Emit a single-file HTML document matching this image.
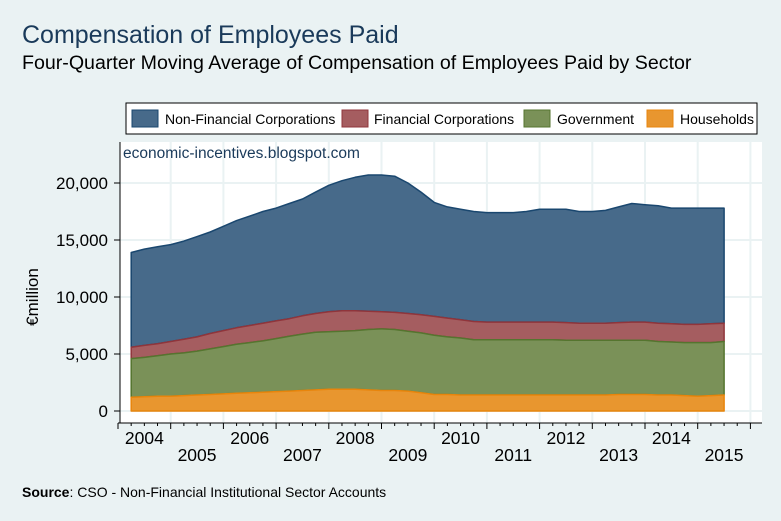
<!DOCTYPE html>
<html><head><meta charset="utf-8"><style>
body{margin:0;background:#eaf2f3;}
svg{display:block;font-family:"Liberation Sans",sans-serif;}
</style></head><body>
<svg id="c" width="781" height="521" xmlns="http://www.w3.org/2000/svg">
<rect width="781" height="521" fill="#eaf2f3"/>
<text x="22" y="43" font-size="25" fill="#1a3a5a">Compensation of Employees Paid</text>
<text x="22" y="69" font-size="19.6" fill="#000">Four-Quarter Moving Average of Compensation of Employees Paid by Sector</text>
<g>
<rect x="126" y="103" width="631" height="31" fill="#fff" stroke="#000" stroke-width="1"/>
<g><rect x="132" y="110" width="26" height="17" fill="#476a8a" stroke="#1a476f"/><text x="165" y="124" font-size="14">Non-Financial Corporations</text></g>
<g><rect x="342" y="110" width="26" height="17" fill="#a55d60" stroke="#90353b"/><text x="374" y="124" font-size="14">Financial Corporations</text></g>
<g><rect x="524" y="110" width="26" height="17" fill="#7a9158" stroke="#55752f"/><text x="557" y="124" font-size="14">Government</text></g>
<g><rect x="647" y="110" width="26" height="17" fill="#e8962f" stroke="#e8850c"/><text x="680" y="124" font-size="14">Households</text></g>
</g>
<rect x="120" y="142" width="642" height="281" fill="#fff"/>
<g id="grid"></g>
<g id="areas"></g>
<g id="axes"></g>
<text x="123" y="158" font-size="15.5" fill="#1a3a5a">economic-incentives.blogspot.com</text>
<text transform="translate(38,297) rotate(-90)" text-anchor="middle" font-size="17">€million</text>
<text x="22" y="497" font-size="14"><tspan font-weight="bold">Source</tspan>: CSO - Non-Financial Institutional Sector Accounts</text>
</svg>
<script>
const startYear = 2004.25;
const yTicks = [0,5000,10000,15000,20000];
const yTickLabels = ["0","5,000","10,000","15,000","20,000"];
const years = [2004,2005,2006,2007,2008,2009,2010,2011,2012,2013,2014,2015];
const householdsTop = [1.2,1.25,1.3,1.3,1.35,1.4,1.45,1.5,1.55,1.6,1.65,1.7,1.75,1.8,1.85,1.9,1.9,1.9,1.85,1.8,1.8,1.75,1.6,1.45,1.45,1.4,1.4,1.4,1.4,1.4,1.4,1.4,1.4,1.4,1.4,1.4,1.4,1.45,1.45,1.45,1.4,1.4,1.35,1.3,1.35,1.4];
const governmentTop = [4.6,4.7,4.85,5.0,5.1,5.25,5.45,5.65,5.85,6.0,6.15,6.35,6.55,6.75,6.9,6.95,7.0,7.05,7.15,7.2,7.15,7.0,6.85,6.65,6.5,6.4,6.25,6.25,6.25,6.25,6.25,6.25,6.25,6.2,6.2,6.2,6.2,6.2,6.2,6.2,6.1,6.05,6.0,6.0,6.0,6.1];
const financialTop = [5.6,5.75,5.9,6.1,6.3,6.5,6.8,7.05,7.3,7.5,7.7,7.9,8.1,8.35,8.55,8.7,8.8,8.8,8.75,8.7,8.65,8.55,8.45,8.3,8.15,8.0,7.85,7.8,7.8,7.8,7.8,7.8,7.8,7.75,7.7,7.7,7.7,7.75,7.8,7.8,7.7,7.65,7.6,7.6,7.65,7.7];
const nonFinancialTop = [13.9,14.2,14.4,14.6,14.9,15.3,15.7,16.2,16.7,17.1,17.5,17.8,18.2,18.6,19.2,19.8,20.2,20.5,20.7,20.7,20.6,20.0,19.2,18.3,17.9,17.7,17.5,17.4,17.4,17.4,17.5,17.7,17.7,17.7,17.5,17.5,17.6,17.9,18.2,18.1,18.0,17.8,17.8,17.8,17.8,17.8];

const X = t => 118 + (t - 2004) * 52.7;
const Y = v => 411 - v * 0.0114;
const NS = "http://www.w3.org/2000/svg";
function mk(tag, attrs, parent){const e=document.createElementNS(NS,tag);for(const k in attrs)e.setAttribute(k,attrs[k]);parent.appendChild(e);return e;}
const grid=document.getElementById('grid'), areas=document.getElementById('areas'), axes=document.getElementById('axes');

yTicks.forEach((v,i)=>{
  const l=mk('line',{x1:120,x2:762,y1:Y(v),y2:Y(v),stroke:'#eaf2f3','stroke-width':2},grid);
  
  
  const tk=mk('line',{x1:114,x2:120,y1:Y(v),y2:Y(v),stroke:'#000'},axes);
  
  
  const t=mk('text',{x:108,y:Y(v)+6,'text-anchor':'end','font-size':17},axes);
  t.textContent=yTickLabels[i];
  
  
});
years.concat([2016]).forEach(yr=>{
  if(yr>2004){
    const l=mk('line',{x1:X(yr),x2:X(yr),y1:142,y2:423,stroke:'#eaf2f3','stroke-width':2},grid);
    
    
  }
});

const series=[
 {name:'area-non-financial',top:nonFinancialTop,base:financialTop,fill:'#476a8a',stroke:'#1a476f'},
 {name:'area-financial',top:financialTop,base:governmentTop,fill:'#a55d60',stroke:'#90353b'},
 {name:'area-government',top:governmentTop,base:householdsTop,fill:'#7a9158',stroke:'#55752f'},
 {name:'area-households',top:householdsTop,base:null,fill:'#e8962f',stroke:'#e8850c'}
];
series.forEach(s=>{
  const n=s.top.length;
  let d='';
  for(let i=0;i<n;i++){d+=(i?'L':'M')+X(startYear+i*0.25).toFixed(1)+','+Y(s.top[i]*1000).toFixed(1);}
  for(let i=n-1;i>=0;i--){d+='L'+X(startYear+i*0.25).toFixed(1)+','+Y(s.base?s.base[i]*1000:0).toFixed(1);}
  d+='Z';
  const p=mk('path',{d:d,fill:s.fill,stroke:s.stroke,'stroke-width':1.5,'stroke-linejoin':'round'},areas);
  
  
});

const ax=mk('line',{x1:120,x2:120,y1:142,y2:423,stroke:'#000'},axes);


const xa=mk('line',{x1:118,x2:762,y1:423,y2:423,stroke:'#000'},axes);


for(let q=0;q<=48;q++){
  const t=2004+q*0.25;
  const major=q%4===0;
  const tk=mk('line',{x1:X(t),x2:X(t),y1:423,y2:major?429:426,stroke:'#000'},axes);
  
  
}
years.forEach((yr,i)=>{
  const t=mk('text',{x:X(yr+0.5),y:i%2===0?444:461,'text-anchor':'middle','font-size':17.5},axes);
  t.textContent=String(yr);
  
  
});
</script>
</body></html>
